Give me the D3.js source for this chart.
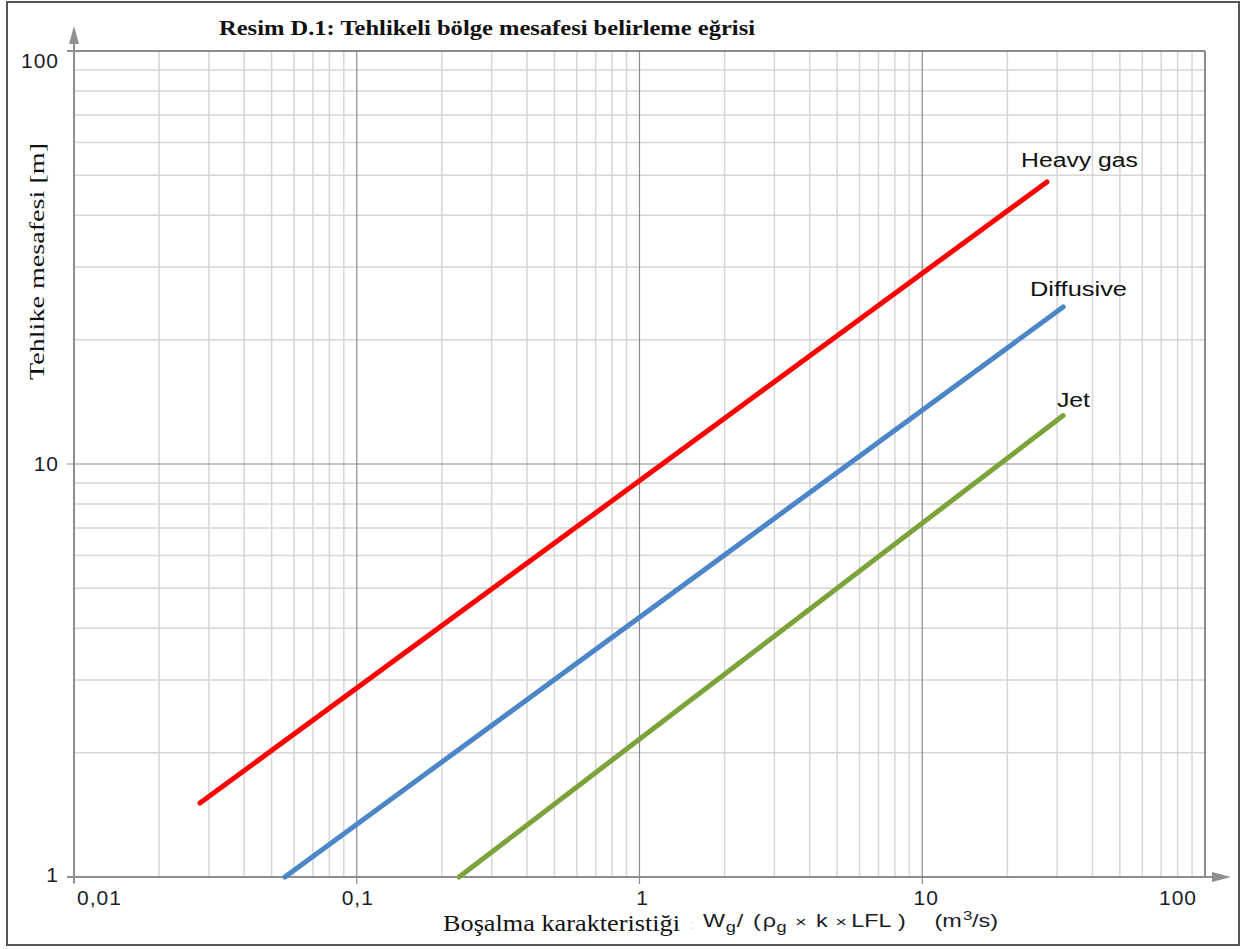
<!DOCTYPE html>
<html>
<head>
<meta charset="utf-8">
<script src="https://cdn.jsdelivr.net/npm/d3@7/dist/d3.min.js"></script>
<style>
  html, body { margin: 0; padding: 0; background: #fff; }
  svg { display: block; }
</style>
</head>
<body>
<svg id="chart" width="1244" height="949"></svg>
<script>
// Hazardous-zone distance curves (log-log): start and end point of each straight line
const seriesNames = ["Heavy gas", "Diffusive", "Jet"];
const seriesColors = ["#ff0000", "#4a86c8", "#7ca23a"];
const heavyGas = [[0.0279, 1.51], [27.6, 48.2]];
const diffusive = [[0.0557, 1.0], [31.5, 24.0]];
const jet = [[0.230, 1.0], [31.5, 13.1]];
const seriesData = [heavyGas, diffusive, jet];

const xTickValues = [0.01, 0.1, 1, 10, 100];
const xTickLabels = ["0,01", "0,1", "1", "10", "100"];
const yTickValues = [1, 10, 100];
const yTickLabels = ["1", "10", "100"];

const titleText = "Resim D.1: Tehlikeli bölge mesafesi belirleme eğrisi";
const yTitle = "Tehlike mesafesi [m]";
const xTitle = "Boşalma karakteristiği";

const svg = d3.select("#chart");
const plotL = 74, plotR = 1205, plotT = 51, plotB = 877;

const x = d3.scaleLog().domain([0.01, 100]).range([plotL, plotR]);
const y = d3.scaleLog().domain([1, 100]).range([plotB, plotT]);

const serif = "'Liberation Serif', 'Times New Roman', serif";
const sans = "'Liberation Sans', Arial, sans-serif";
const ink = "#1c1c28";

// outer frame
svg.append("rect").attr("x", 7).attr("y", 2).attr("width", 1232).attr("height", 943)
  .attr("fill", "#fff").attr("stroke", "#555").attr("stroke-width", 2);

// minor / major grid values
const minorX = [], minorY = [];
[0.01, 0.1, 1, 10].forEach(d => { for (let k = 2; k <= 9; k++) minorX.push(d * k); });
[1, 10].forEach(d => { for (let k = 2; k <= 9; k++) minorY.push(d * k); });

const grid = svg.append("g");
grid.append("g").selectAll("line").data(minorX).join("line")
  .attr("x1", d => x(d)).attr("x2", d => x(d)).attr("y1", plotT).attr("y2", plotB)
  .attr("stroke", "#d6d6d6").attr("stroke-width", 1.5);
grid.append("g").selectAll("line").data(minorY).join("line")
  .attr("x1", plotL).attr("x2", plotR).attr("y1", d => y(d)).attr("y2", d => y(d))
  .attr("stroke", "#d6d6d6").attr("stroke-width", 1.5);
grid.append("g").selectAll("line").data([0.1, 1, 10]).join("line")
  .attr("x1", d => x(d)).attr("x2", d => x(d)).attr("y1", plotT).attr("y2", plotB + 7)
  .attr("stroke", "#8c8c8c").attr("stroke-width", 1.2);
grid.append("g").selectAll("line").data([10]).join("line")
  .attr("x1", plotL - 7).attr("x2", plotR).attr("y1", d => y(d)).attr("y2", d => y(d))
  .attr("stroke", "#8c8c8c").attr("stroke-width", 1.2);

// top and right frame of the plot
svg.append("line").attr("x1", plotL - 7).attr("x2", plotR).attr("y1", plotT).attr("y2", plotT)
  .attr("stroke", "#666").attr("stroke-width", 1.5);
svg.append("line").attr("x1", plotR).attr("x2", plotR).attr("y1", plotT).attr("y2", plotB)
  .attr("stroke", "#444").attr("stroke-width", 1.2);

// axes with arrow heads
const axisColor = "#8f8f8f";
svg.append("line").attr("x1", plotL).attr("x2", plotL).attr("y1", plotB + 6).attr("y2", 38)
  .attr("stroke", axisColor).attr("stroke-width", 2);
svg.append("path").attr("d", `M${plotL - 5},44 L${plotL},26 L${plotL + 5},44 Z`).attr("fill", axisColor);
svg.append("line").attr("x1", plotL - 7).attr("x2", 1218).attr("y1", plotB).attr("y2", plotB)
  .attr("stroke", axisColor).attr("stroke-width", 2);
svg.append("path").attr("d", `M1212,${plotB - 5} L1231,${plotB} L1212,${plotB + 5} Z`).attr("fill", axisColor);
svg.append("line").attr("x1", x(0.01)).attr("x2", x(0.01)).attr("y1", plotB).attr("y2", plotB + 7)
  .attr("stroke", axisColor).attr("stroke-width", 1.2);

// tick labels
const xLabelShift = [3, 1, 3, 4, -27];
const xAnchor = ["start", "middle", "middle", "middle", "middle"];
svg.append("g").selectAll("text").data(xTickValues).join("text")
  .attr("x", (d, i) => x(d) + xLabelShift[i]).attr("y", 905)
  .attr("text-anchor", (d, i) => xAnchor[i])
  .attr("font-family", sans).attr("font-size", 21).attr("letter-spacing", 1).attr("fill", ink)
  .text((d, i) => xTickLabels[i]);
const yLabelShift = [5, 7, 17];
svg.append("g").selectAll("text").data(yTickValues).join("text")
  .attr("x", 59).attr("y", (d, i) => y(d) + yLabelShift[i])
  .attr("text-anchor", "end")
  .attr("font-family", sans).attr("font-size", 21).attr("letter-spacing", 1).attr("fill", ink)
  .text((d, i) => yTickLabels[i]);

// curves
const line = d3.line().x(d => x(d[0])).y(d => y(d[1]));
svg.append("g").selectAll("path").data(seriesData).join("path")
  .attr("d", line).attr("fill", "none")
  .attr("stroke", (d, i) => seriesColors[i]).attr("stroke-width", 5)
  .attr("stroke-linecap", "round");

// curve labels (wide lettering)
const labelPos = [[1021, 167, 117], [1030, 296, 97], [1057, 407, 33]];
svg.append("g").selectAll("text").data(seriesNames).join("text")
  .attr("x", (d, i) => labelPos[i][0]).attr("y", (d, i) => labelPos[i][1])
  .attr("textLength", (d, i) => labelPos[i][2]).attr("lengthAdjust", "spacingAndGlyphs")
  .attr("font-family", sans).attr("font-size", 20).attr("fill", "#111")
  .text(d => d);

// title
svg.append("text").attr("x", 219).attr("y", 35)
  .attr("textLength", 536).attr("lengthAdjust", "spacingAndGlyphs")
  .attr("font-family", serif)
  .attr("font-weight", "bold").attr("font-size", 21).attr("fill", "#111")
  .text(titleText);

// y title
svg.append("text").attr("transform", "translate(44,380) rotate(-90)")
  .attr("textLength", 237).attr("lengthAdjust", "spacingAndGlyphs")
  .attr("font-family", serif)
  .attr("font-size", 22).attr("fill", "#111")
  .text(yTitle);

// x title: serif part then the formula in stretched sans
svg.append("text").attr("x", 443).attr("y", 931)
  .attr("textLength", 237).attr("lengthAdjust", "spacingAndGlyphs")
  .attr("font-family", serif)
  .attr("font-size", 23).attr("fill", "#111")
  .text(xTitle);
svg.append("text").attr("x", 690).attr("y", 929)
  .attr("font-family", sans).attr("font-size", 14).attr("fill", "#cfe0f0")
  .text(":");

const formulaParts = [
  { t: "W", x: 0, dy: 0, size: 18 },
  { t: "g", x: 17.5, dy: 5, size: 14 },
  { t: "/", x: 26, dy: 0, size: 18 },
  { t: "(", x: 38.5, dy: 0, size: 18 },
  { t: "ρ", x: 46, dy: 0, size: 18 },
  { t: "g", x: 56.5, dy: 5, size: 14 },
  { t: "×", x: 71, dy: 0, size: 15 },
  { t: "k", x: 87, dy: 0, size: 18 },
  { t: "×", x: 102, dy: 0, size: 15 },
  { t: "LFL", x: 114, dy: 0, size: 18 },
  { t: ")", x: 150, dy: 0, size: 18 },
  { t: "(m", x: 178, dy: 0, size: 18 },
  { t: "3", x: 200, dy: -7, size: 13 },
  { t: "/s)", x: 207, dy: 0, size: 18 }
];
svg.append("g").attr("transform", "translate(703,927) scale(1.3,1)")
  .selectAll("text").data(formulaParts).join("text")
  .attr("x", d => d.x).attr("y", d => d.dy)
  .attr("font-family", sans).attr("font-size", d => d.size).attr("fill", ink)
  .text(d => d.t);
</script>
</body>
</html>
